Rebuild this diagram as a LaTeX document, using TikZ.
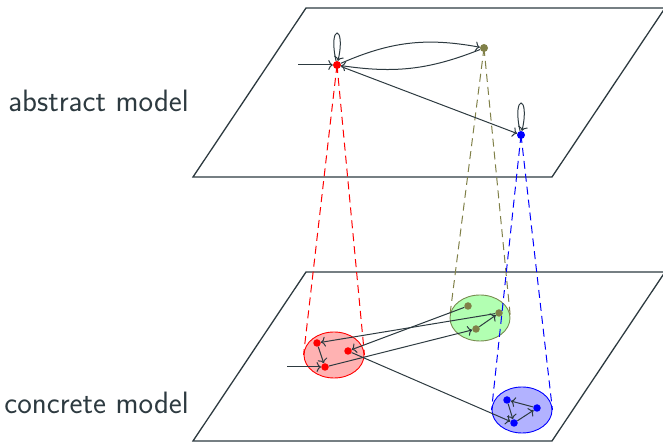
\documentclass[tikz,border=0pt]{standalone}
\usepackage{fontspec}
\usepackage{xcolor}
\usepackage{tikz}
\usetikzlibrary{arrows.meta,positioning,shapes.geometric}
\definecolor{ink}{RGB}{45,58,64}
\definecolor{moss}{RGB}{128,128,72}
\definecolor{mossline}{RGB}{120,140,80}

\begin{document}
\begin{tikzpicture}[
  x=1pt, y=1pt,
  plane/.style={draw=ink, line width=1.3pt},
  state/.style={circle, fill=#1, inner sep=0pt, minimum size=8pt},
  region/.style={ellipse, line width=0.9pt, minimum width=60pt, minimum height=46pt, inner sep=0pt},
  trans/.style={draw=ink, line width=1pt, -{To[length=4.5pt,width=10pt]}},
  proj/.style={draw=#1, line width=1pt, dash pattern=on 8pt off 5pt},
  modeltext/.style={font=\fontsize{30.9}{36}\selectfont\sffamily, text=ink, inner sep=0pt}
]
\useasboundingbox (0,0) rectangle (663,443);

\draw[plane] (193,266) -- (552,266) -- (665,435) -- (306,435) -- cycle;
\draw[plane] (193,2) -- (552,2) -- (665,171) -- (306,171) -- cycle;
\node[modeltext, anchor=base east] (abs) at (189,331) {abstract model};
\node[modeltext, anchor=base east] (con) at (189,29) {concrete model};

\node[region, draw=red, fill=red!30] (er) at (334,88) {};
\node[region, draw=mossline, fill=green!30] (eg) at (480,125) {};
\node[region, draw=blue, fill=blue!30] (eb) at (522,33) {};

\node[state=red, minimum size=7.5pt] (cr1) at (317,100) {};
\node[state=red, minimum size=7.5pt] (cr2) at (348,92) {};
\node[state=red, minimum size=7.5pt] (cr3) at (325,76) {};
\node[state=moss, minimum size=7.5pt] (cg1) at (468,137) {};
\node[state=moss, minimum size=7.5pt] (cg2) at (499,130) {};
\node[state=moss, minimum size=7.5pt] (cg3) at (476,114) {};
\node[state=blue, minimum size=7.5pt] (cb1) at (507,43) {};
\node[state=blue, minimum size=7.5pt] (cb2) at (537,35) {};
\node[state=blue, minimum size=7.5pt] (cb3) at (514,20) {};
\coordinate (in2) at (287,76);

\node[state=red] (ar) at (337,378) {};
\node[state=moss] (ao) at (484,395) {};
\node[state=blue] (ab) at (521,308) {};
\coordinate (in1) at (298,378);

\draw[proj=red] (ar.center) -- (er.west);
\draw[proj=red] (ar.center) -- (er.east);
\draw[proj=moss] (ao.center) -- (eg.west);
\draw[proj=moss] (ao.center) -- (eg.east);
\draw[proj=blue] (ab.center) -- (eb.west);
\draw[proj=blue] (ab.center) -- (eb.east);

\draw[trans] (in1) -- (ar);
\draw[trans] (ar) to[bend left=17] (ao);
\draw[trans] (ao) to[bend left=15] (ar);
\draw[trans] (ar) -- (ab);
\draw[trans] (ar) to[out=103, in=77, min distance=38pt] (ar);
\draw[trans] (ab) to[out=103, in=77, min distance=38pt] (ab);

\draw[trans] (in2) -- (cr3);
\draw[trans] (cr1) -- (cr3);
\draw[trans] (cg1) -- (cr2);
\draw[trans] (cg2) -- (cr1);
\draw[trans] (cr3) -- (cg3);
\draw[trans] (cg3) -- (cg2);
\draw[trans] (cr2) -- (cb3);
\draw[trans] (cb3) -- (cb2);
\draw[trans] (cb2) -- (cb1);
\draw[trans] (cb1) -- (cb3);

\end{tikzpicture}
\end{document}
